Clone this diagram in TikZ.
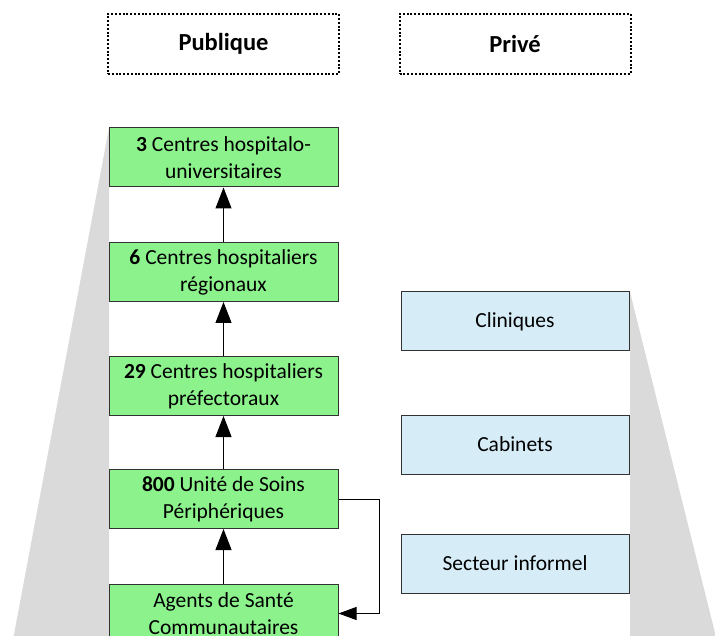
\documentclass[tikz,border=0pt]{standalone}
\usepackage{fontspec}
\setmainfont{Carlito}
\usetikzlibrary{arrows.meta}
\definecolor{levelgreen}{RGB}{140,242,140}
\definecolor{levelblue}{RGB}{214,236,247}
\definecolor{wedgegray}{RGB}{218,218,218}
\definecolor{edgegray}{RGB}{50,50,50}
\begin{document}
\begin{tikzpicture}[x=1pt,y=-1pt,
  header/.style={draw=black, line width=2pt, dash pattern=on 2pt off 1.8pt,
    minimum width=231pt, minimum height=60pt, font=\fontsize{24.5}{29}\selectfont\bfseries},
  pubbox/.style={draw=edgegray, line width=1pt, fill=levelgreen, minimum width=229pt,
    minimum height=59pt, align=center, font=\fontsize{21.5}{27}\selectfont},
  privbox/.style={draw=edgegray, line width=1pt, fill=levelblue, minimum width=228pt,
    minimum height=59pt, align=center, font=\fontsize{21.5}{27}\selectfont},
  uparrow/.style={-{Triangle[width=16pt,length=21pt]}, line width=1pt, black},
  wedge/.style={fill=wedgegray, draw=none}]
\path[use as bounding box, clip] (0,0) rectangle (715,636);

% shaded wedges beside the two columns
\fill[wedge] (109,128) -- (12,645) -- (109,645) -- cycle;
\fill[wedge] (630,292) -- (718,645) -- (630,645) -- cycle;

% column headings
\node[header] (pub) at (223.5,44) {Publique};
\node[header] (priv) at (515,44) {Privé};

% public sector levels
\node[pubbox] (chu) at (223.5,157.5) {\textbf{3} Centres hospitalo-\\universitaires};
\node[pubbox] (chr) at (223.5,272) {\textbf{6} Centres hospitaliers\\régionaux};
\node[pubbox] (chp) at (223.5,386) {\textbf{29} Centres hospitaliers\\préfectoraux};
\node[pubbox] (usp) at (223.5,499) {\textbf{800} Unité de Soins\\Périphériques};
\node[pubbox] (asc) at (223.5,613.5) {Agents de Santé\\Communautaires};

% private sector
\node[privbox] (cli) at (515,321.5) {Cliniques};
\node[privbox] (cab) at (515,444.5) {Cabinets};
\node[privbox] (inf) at (515,563.5) {Secteur informel};

% referral arrows
\draw[uparrow] (chr.north) -- (chu.south);
\draw[uparrow] (chp.north) -- (chr.south);
\draw[uparrow] (usp.north) -- (chp.south);
\draw[uparrow] (asc.north) -- (usp.south);
\coordinate (loopA) at (379,499);
\coordinate (loopB) at (379,613.5);
\draw[-{Triangle[width=13pt,length=18pt]}, line width=1pt, black]
  (usp.east) -- (loopA) -- (loopB) -- (asc.east);
\end{tikzpicture}
\end{document}
